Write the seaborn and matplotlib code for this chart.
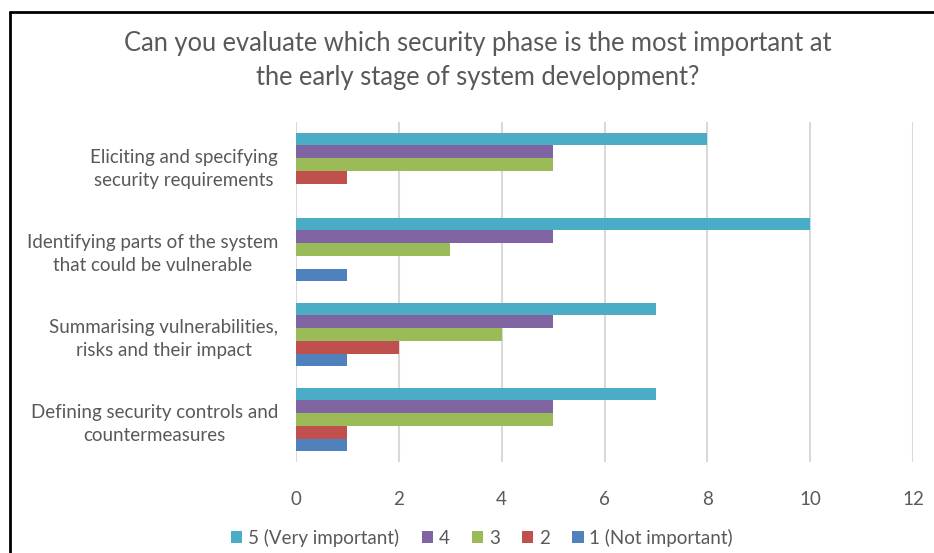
import matplotlib
matplotlib.use("Agg")
import matplotlib.pyplot as plt
from matplotlib.lines import Line2D
from matplotlib.patches import Patch
import seaborn as sns
import pandas as pd

categories = [
    "Eliciting and specifying\nsecurity requirements",
    "Identifying parts of the system\nthat could be vulnerable",
    "Summarising vulnerabilities,\nrisks and their impact",
    "Defining security controls and\ncountermeasures",
]
series = ["5 (Very important)", "4", "3", "2", "1 (Not important)"]
values = {
    "5 (Very important)": [8, 10, 7, 7],
    "4": [5, 5, 5, 5],
    "3": [5, 3, 4, 5],
    "2": [1, 0, 2, 1],
    "1 (Not important)": [0, 1, 1, 1],
}
colors = ["#4BACC6", "#8064A2", "#9BBB59", "#C0504D", "#4F81BD"]
xticks = [0, 2, 4, 6, 8, 10, 12]
title = "Can you evaluate which security phase is the most important at\nthe early stage of system development?"

rows = []
for s in series:
    for c, v in zip(categories, values[s]):
        rows.append({"category": c, "series": s, "value": v})
df = pd.DataFrame(rows)

sns.set_theme(style="white")
plt.rcParams["font.family"] = ["Lato", "DejaVu Sans"]
text_color = "#595959"

fig = plt.figure(figsize=(9.34, 5.53), dpi=100)
ax = fig.add_axes([296 / 934, 1 - 462 / 553, (913 - 296) / 934, (462 - 122) / 553])

sns.barplot(data=df, y="category", x="value", hue="series", order=categories,
            hue_order=series, palette=colors, orient="h", width=0.75,
            saturation=1, ax=ax, legend=False, errorbar=None, linewidth=0)

ax.set_xlim(0, 12)
ax.set_xticks(xticks)
ax.set_xticklabels([str(t) for t in xticks])
ax.set_xlabel("")
ax.set_ylabel("")
for sp in ax.spines.values():
    sp.set_visible(False)
ax.grid(axis="x", color="#D9D9D9", linewidth=1.5)
ax.set_axisbelow(True)
ax.tick_params(axis="x", length=0, pad=21, labelsize=13.5, labelcolor=text_color)
ax.tick_params(axis="y", length=0, pad=13, labelsize=13.5, labelcolor=text_color)
for lbl in ax.get_yticklabels():
    lbl.set_horizontalalignment("right")
    lbl.set_multialignment("center")
    lbl.set_linespacing(1.45)

fig.text(478 / 934, 1 - 61 / 553, title, ha="center", va="center", fontsize=18.4,
         color=text_color, linespacing=1.45)

handles = [Patch(facecolor=c, edgecolor="none") for c in colors]
fig.legend(handles, series, loc="center", bbox_to_anchor=(482 / 934, 1 - 538 / 553),
           ncol=5, frameon=False, fontsize=13.5, handlelength=0.6, handleheight=0.6,
           handletextpad=0.3, columnspacing=1.2, labelcolor=text_color)

fig.add_artist(Line2D([9.5 / 934, 1], [1 - 11.5 / 553, 1 - 11.5 / 553],
                      transform=fig.transFigure, color="black", linewidth=2))
fig.add_artist(Line2D([9.5 / 934, 9.5 / 934], [0, 1 - 11.5 / 553],
                      transform=fig.transFigure, color="black", linewidth=2))

fig.savefig("out.png", dpi=100, facecolor="white")
